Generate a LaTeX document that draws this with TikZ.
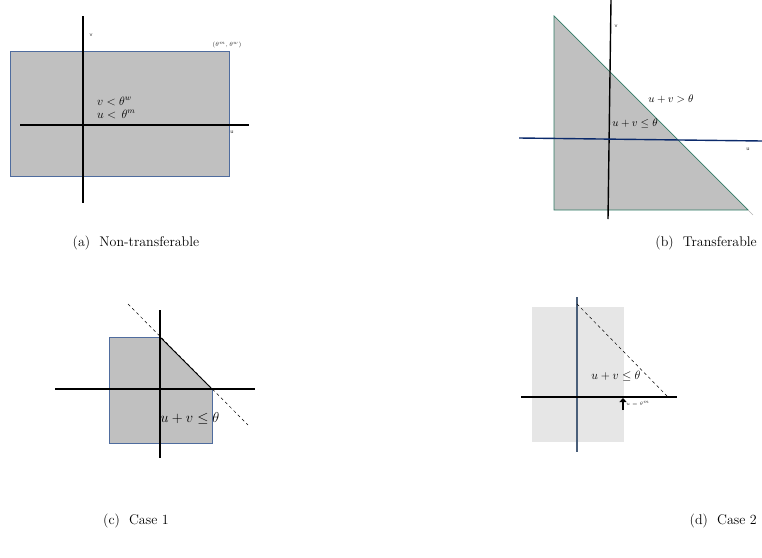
\documentclass[tikz,border=0pt]{standalone}
\usepackage{amsmath}
\usepackage{xcolor}
\usepackage{tikz}
\usetikzlibrary{arrows.meta,calc,positioning}
\definecolor{region}{HTML}{C0C0C0}
\definecolor{pale}{HTML}{E6E6E6}
\definecolor{edge}{HTML}{4F6C9E}
\definecolor{leaf}{HTML}{2F7A65}
\definecolor{navy}{HTML}{0B2A6B}
\definecolor{slate}{HTML}{4A5F7A}

\tikzset{
  axis/.style={line width=1.4pt,black},
  border/.style={line width=0.7pt,edge},
  tiny/.style={font=\sffamily\fontsize{6}{7}\selectfont,inner sep=0pt,text=black!80},
  caption/.style={font=\fontsize{14}{16}\selectfont,inner sep=0pt}
}

\begin{document}
\begin{tikzpicture}[x=1pt,y=-1pt]
\useasboundingbox (0,0) rectangle (762,557);
% (a) non-transferable
\fill[region] (10,51) rectangle (229,176);
\draw[border] (10,51) rectangle (229,176);
\draw[axis] (83,16) coordinate (av1) -- (83,203) coordinate (av2);
\draw[axis] (20,125) coordinate (ah1) -- (249,125) coordinate (ah2);
\node[tiny] (alv) at (91,35) {v};
\node[tiny] (alu) at (232,132) {u};
\node[tiny,font=\fontsize{6}{7}\selectfont] (alc) at (227,45) {$(\theta^m,\theta^w)$};
\node[font=\fontsize{12}{13}\selectfont,inner sep=0pt,anchor=west] (acv) at (97,101) {$v<\theta^w$};
\node[font=\fontsize{12}{13}\selectfont,inner sep=0pt,anchor=west] (acu) at (97,114) {$u<\,\theta^m$};
\node[caption] (capa) at (136,243) {(a)\ \ Non-transferable};
% (b) transferable
\fill[region] (554,16) -- (554,210) -- (748,210) -- cycle;
\draw[line width=0.7pt,leaf] (554,16) -- (554,210) -- (748,210) -- cycle;
\draw[line width=0.4pt,gray!60] (748,210) -- (753,215);
\draw[axis] (611,0) coordinate (bv1) -- (608,219) coordinate (bv2);
\draw[line width=1.4pt,navy] (519,138) coordinate (bh1) -- (762,141) coordinate (bh2);
\node[tiny] (blv) at (616,26) {v};
\node[tiny] (blu) at (748,149) {u};
\node[font=\fontsize{10.5}{12}\selectfont,inner sep=0pt] (bgt) at (671,99) {$u+v>\theta$};
\node[font=\fontsize{10.5}{12}\selectfont,inner sep=0pt] (ble) at (635,123) {$u+v\leq\theta$};
\node[caption,anchor=east] (capb) at (757,243) {(b)\ \ Transferable};
% (c) case 1
\fill[region] (109,337) -- (160,337) -- (212,389) -- (212,443) -- (109,443) -- cycle;
\draw[border] (160,337) -- (109,337) -- (109,443) -- (212,443) -- (212,389);
\draw[line width=0.8pt,black] (160,337) -- (212,389);
\draw[axis] (160,310) coordinate (cv1) -- (160,458) coordinate (cv2);
\draw[axis] (55,389) coordinate (ch1) -- (255,389) coordinate (ch2);
\draw[dashed,line width=0.5pt] (128,304) coordinate (cd1) -- (248,425) coordinate (cd2);
\node[font=\fontsize{13.5}{15}\selectfont,inner sep=0pt] (cle) at (190,418) {$u+v\leq\theta$};
\node[caption] (capc) at (136,521) {(c)\ \ Case 1};
% (d) case 2
\fill[pale] (532,307) rectangle (624,442);
\draw[line width=1.3pt,slate] (577,297) coordinate (dv1) -- (577,452) coordinate (dv2);
\draw[axis] (521,397) coordinate (dh1) -- (677,397) coordinate (dh2);
\draw[dashed,line width=0.5pt] (577,304) coordinate (dd1) -- (667,396) coordinate (dd2);
\node[font=\fontsize{12}{13}\selectfont,inner sep=0pt] (dle) at (616,376) {$u+v\leq\theta$};
\draw[line width=2.4pt,-{Triangle[length=4pt,width=7pt]}] (623,410) coordinate (da1) -- (623,398) coordinate (da2);
\node[tiny,anchor=west,font=\fontsize{5.5}{6}\selectfont] (dlm) at (626,403) {$u=\theta^m$};
\node[caption,anchor=east] (capd) at (757,521) {(d)\ \ Case 2};
\end{tikzpicture}
\end{document}
